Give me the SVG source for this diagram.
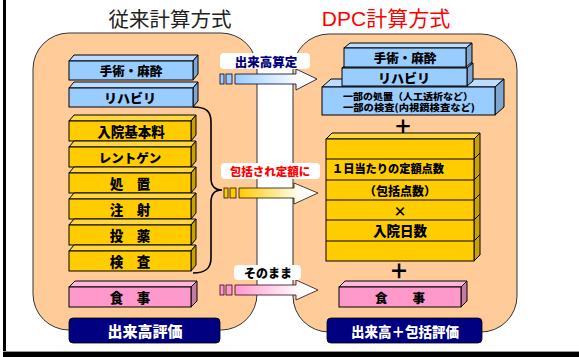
<svg xmlns="http://www.w3.org/2000/svg" width="579" height="357" viewBox="0 0 579 357">
<style>
.t{font-family:"Noto Sans CJK JP","Noto Sans",sans-serif;font-weight:900;dominant-baseline:central;text-anchor:middle;fill:#000}
.st{text-anchor:start}
.panel{fill:#FFCC99;stroke:#333;stroke-width:1}
.bf{fill:#99CCFF;stroke:#000;stroke-width:1}
.bt{fill:#BBDDFF;stroke:#000;stroke-width:1}
.bs{fill:#7FA6CF;stroke:#000;stroke-width:1}
.yf{fill:#FFCC00;stroke:#000;stroke-width:1}
.yt{fill:#FFD740;stroke:#000;stroke-width:1}
.ys{fill:#C9A200;stroke:#000;stroke-width:1}
.pf{fill:#FF99CC;stroke:#000;stroke-width:1}
.pt{fill:#FFB8DC;stroke:#000;stroke-width:1}
.ps{fill:#C97AA3;stroke:#000;stroke-width:1}
.navy{fill:#000080;stroke:#000;stroke-width:0.8}
.nt{font-family:"Noto Sans CJK JP","Noto Sans",sans-serif;font-weight:900;dominant-baseline:central;text-anchor:middle;fill:#fff}
.lbl{fill:#fff}
</style>
<defs>
<linearGradient id="gb" x1="0" y1="0" x2="1" y2="0"><stop offset="0" stop-color="#99CCFF"/><stop offset="0.8" stop-color="#fff"/></linearGradient>
<linearGradient id="gy" x1="0" y1="0" x2="1" y2="0"><stop offset="0" stop-color="#FFCC00"/><stop offset="0.8" stop-color="#fff"/></linearGradient>
<linearGradient id="gp" x1="0" y1="0" x2="1" y2="0"><stop offset="0" stop-color="#FF99CC"/><stop offset="0.8" stop-color="#fff"/></linearGradient>
</defs>
<rect width="579" height="357" fill="#fff"/>
<rect x="3" y="0" width="3" height="357" fill="#000"/>
<rect x="3" y="351" width="576" height="1" fill="#999"/>
<rect x="3" y="352" width="576" height="5" fill="#000"/>

<text x="170" y="18" font-family="'Noto Sans CJK JP',sans-serif" font-size="20.5" dominant-baseline="central" text-anchor="middle" fill="#222">従来計算方式</text>
<text x="386" y="18" font-family="'Liberation Sans','Noto Sans CJK JP',sans-serif" font-size="21" dominant-baseline="central" text-anchor="middle" fill="#FF0000">DPC計算方式</text>

<g id="panel-left"><rect class="panel" x="33" y="33" width="224" height="297" rx="36"/></g>
<g id="panel-right"><rect class="panel" x="293" y="34" width="224" height="298" rx="36"/></g>

<!-- Left column bars -->
<g id="l-shujutsu">
<polygon class="bt" points="69,61 74,55 198,55 193,61"/>
<polygon class="bs" points="193,61 198,55 198,74 193,80"/>
<rect class="bf" x="69" y="61" width="124" height="19"/>
<text class="t" x="131" y="70.5" font-size="12.5">手術・麻酔</text>
</g>
<g id="l-riha">
<polygon class="bt" points="69,88 74,82 198,82 193,88"/>
<polygon class="bs" points="193,88 198,82 198,101 193,107"/>
<rect class="bf" x="69" y="88" width="124" height="19"/>
<text class="t" x="130" y="97.5" font-size="13">リハビリ</text>
</g>
<g id="l-nyuin">
<polygon class="yt" points="69,121 74,115 196,115 191,121"/>
<polygon class="ys" points="191,121 196,115 196,135 191,141"/>
<rect class="yf" x="69" y="121" width="122" height="20"/>
<text class="t" x="131" y="131" font-size="13.5">入院基本料</text>
</g>
<g id="l-rentogen">
<polygon class="yt" points="69,147 74,141 196,141 191,147"/>
<polygon class="ys" points="191,147 196,141 196,161 191,167"/>
<rect class="yf" x="69" y="147" width="122" height="20"/>
<text class="t" x="130" y="157" font-size="12.5">レントゲン</text>
</g>
<g id="l-shochi">
<polygon class="yt" points="69,173 74,167 196,167 191,173"/>
<polygon class="ys" points="191,173 196,167 196,187 191,193"/>
<rect class="yf" x="69" y="173" width="122" height="20"/>
<text class="t" x="130" y="183" font-size="13.5">処　置</text>
</g>
<g id="l-chusha">
<polygon class="yt" points="69,199 74,193 196,193 191,199"/>
<polygon class="ys" points="191,199 196,193 196,213 191,219"/>
<rect class="yf" x="69" y="199" width="122" height="20"/>
<text class="t" x="130" y="209" font-size="13.5">注　射</text>
</g>
<g id="l-toyaku">
<polygon class="yt" points="69,225 74,219 196,219 191,225"/>
<polygon class="ys" points="191,225 196,219 196,239 191,245"/>
<rect class="yf" x="69" y="225" width="122" height="20"/>
<text class="t" x="130" y="235" font-size="13.5">投　薬</text>
</g>
<g id="l-kensa">
<polygon class="yt" points="69,251 74,245 196,245 191,251"/>
<polygon class="ys" points="191,251 196,245 196,265 191,271"/>
<rect class="yf" x="69" y="251" width="122" height="20"/>
<text class="t" x="130" y="261" font-size="13.5">検　査</text>
</g>
<g id="l-shokuji">
<polygon class="pt" points="69,287 75,281 197,281 191,287"/>
<polygon class="ps" points="191,287 197,281 197,301 191,307"/>
<rect class="pf" x="69" y="287" width="122" height="20"/>
<text class="t" x="130" y="297" font-size="13.5">食　事</text>
</g>
<g id="l-eval">
<rect class="navy" x="69" y="318" width="151" height="25" rx="4"/>
<text class="nt" x="145" y="330.5" font-size="15">出来高評価</text>
</g>

<!-- Right column -->
<g id="r-ichibu">
<polygon class="bt" points="322,87 331,79 504,79 495,87"/>
<polygon class="bs" points="495,87 504,79 504,107 495,115"/>
<rect class="bf" x="322" y="87" width="173" height="28"/>
<text class="t" font-size="9.5"><tspan x="408" y="95.5" textLength="130" lengthAdjust="spacingAndGlyphs">一部の処置（人工透析など）</tspan><tspan x="409" y="106.5" textLength="132" lengthAdjust="spacingAndGlyphs">一部の検査(内視鏡検査など)</tspan></text>
</g>
<g id="r-riha">
<polygon class="bt" points="342,68 348,63 473,63 467,68"/>
<polygon class="bs" points="467,68 473,63 473,81 467,86"/>
<rect class="bf" x="342" y="68" width="125" height="18"/>
<text class="t" x="404" y="77" font-size="13">リハビリ</text>
</g>
<g id="r-shujutsu">
<polygon class="bt" points="344,48 350,43 472,43 466,48"/>
<polygon class="bs" points="466,48 472,43 472,62 466,67"/>
<rect class="bf" x="344" y="48" width="122" height="19"/>
<text class="t" x="405" y="57.5" font-size="12.5">手術・麻酔</text>
</g>
<text class="t" x="403" y="125" font-size="19">＋</text>
<g id="r-houkatsu">
<polygon class="yt" points="326,139 332,133 480,133 474,139"/>
<polygon class="ys" points="474,139 480,133 480,255 474,261"/>
<rect class="yf" x="326" y="139" width="148" height="122"/>
<path d="M326,159H474L480,153M326,180H474L480,174M326,200H474L480,194M326,220H474L480,214M326,241H474L480,235" fill="none" stroke="#000" stroke-width="1"/>
<text class="t st" x="332" y="168" font-size="11.5" textLength="112" lengthAdjust="spacingAndGlyphs">１日当たりの定額点数</text>
<text class="t" x="400" y="190" font-size="12">（包括点数）</text>
<text class="t" x="400" y="210" font-size="13">×</text>
<text class="t" x="400" y="230" font-size="13.5">入院日数</text>
</g>
<text class="t" x="399" y="270" font-size="20">＋</text>
<g id="r-shokuji">
<polygon class="pt" points="339,287 345,281 467,281 461,287"/>
<polygon class="ps" points="461,287 467,281 467,301 461,307"/>
<rect class="pf" x="339" y="287" width="122" height="20"/>
<text class="t" x="400" y="297" font-size="12.5">食　　事</text>
</g>
<g id="r-eval">
<rect class="navy" x="327" y="318" width="155" height="25" rx="4"/>
<text class="nt" x="405" y="330.5" font-size="13.5">出来高＋包括評価</text>
</g>

<!-- Connectors -->
<g id="connectors">
<path d="M193,107 C206,107 211,111 211,122 L211,178 C211,186 215,190 222,190 C215,190 211,194 211,202 L211,258 C211,268 206,273 193,273" fill="none" stroke="#000" stroke-width="1.6"/>
<g id="arrow-dekidaka">
<rect x="220" y="74" width="4" height="10" fill="#99CCFF" stroke="#003" stroke-width="0.8"/>
<rect x="226" y="74" width="6" height="10" fill="#99CCFF" stroke="#003" stroke-width="0.8"/>
<path d="M235,74 H296 V69 L317,79 L296,90 V84 H235 Z" fill="url(#gb)" stroke="#003" stroke-width="0.8"/>
</g>
<g id="arrow-houkatsu">
<rect x="224" y="188" width="4" height="10" fill="#FFCC00" stroke="#210" stroke-width="0.8"/>
<rect x="230" y="188" width="6" height="10" fill="#FFCC00" stroke="#210" stroke-width="0.8"/>
<path d="M239,188 H294 V183 L318,193 L294,204 V198 H239 Z" fill="url(#gy)" stroke="#210" stroke-width="0.8"/>
</g>
<g id="arrow-sonomama">
<rect x="220" y="285" width="4" height="10" fill="#FF99CC" stroke="#302" stroke-width="0.8"/>
<rect x="226" y="285" width="6" height="10" fill="#FF99CC" stroke="#302" stroke-width="0.8"/>
<path d="M235,285 H296 V280 L318,290 L296,300 V295 H235 Z" fill="url(#gp)" stroke="#302" stroke-width="0.8"/>
</g>
</g>

<g id="label-dekidaka">
<rect class="lbl" x="220" y="53" width="90" height="16" rx="4"/>
<text class="t" x="266" y="61" font-size="12.5" style="fill:#000080">出来高算定</text>
</g>
<g id="label-houkatsu">
<rect class="lbl" x="221" y="163" width="99" height="16" rx="4"/>
<text class="t" x="270" y="171" font-size="11.5" style="fill:#FF0000">包括され定額に</text>
</g>
<g id="label-sonomama">
<rect class="lbl" x="234" y="265" width="67" height="15" rx="4"/>
<text class="t" x="268" y="272.5" font-size="12">そのまま</text>
</g>
</svg>
